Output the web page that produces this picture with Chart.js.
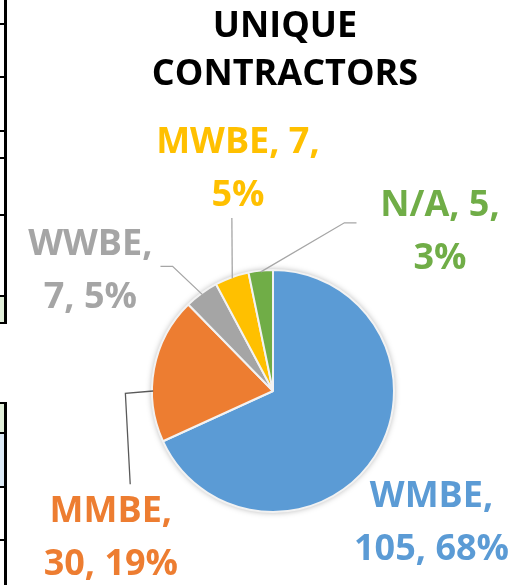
<!DOCTYPE html>
<html>
<head>
<meta charset="utf-8">
<script src="https://cdn.jsdelivr.net/npm/chart.js@4/dist/chart.umd.min.js"></script>
<style>
html,body{margin:0;padding:0;background:#fff;}
#wrap{width:532px;height:585px;position:relative;}
</style>
</head>
<body>
<div id="wrap"><canvas id="c"></canvas></div>
<script>
// ---- data ----
const categories = ["WMBE", "MMBE", "WWBE", "MWBE", "N/A"];
const contractorCounts = [105, 30, 7, 7, 5];
const titleLines = ["UNIQUE", "CONTRACTORS"];

// ---- style ----
const sliceColors = ["#5B9BD5", "#ED7D31", "#A5A5A5", "#FFC000", "#70AD47"];
const FONT = "bold 36px 'Open Sans', sans-serif";
// label layout: centre x / first baseline relative to pie centre in radius units, line break mode
const labelLayout = [
  {dx: 1.31, dy: 0.96, brk: "name"},
  {dx: -1.34, dy: 1.08, brk: "name"},
  {dx: -1.51, dy: -1.12, brk: "name"},
  {dx: -0.29, dy: -1.97, brk: "value"},
  {dx: 1.38, dy: -1.45, brk: "value"}
];
// leader lines: anchor fraction along arc + outer points (radius units)
const leaderLayout = [
  null,
  {t: 0.35, pts: [[-1.18, 0.77], [-1.22, 0.02]]},
  {t: 0.5, pts: [[-0.93, -1.03], [-0.83, -1.03]]},
  {t: 0.5, pts: [[-0.34, -1.43]]},
  {t: 0.5, pts: [[0.69, -1.39], [0.59, -1.39]]}
];

const total = contractorCounts.reduce((a, b) => a + b, 0);

const decorPlugin = {
  id: "decor",
  beforeDraw(chart) {
    const ctx = chart.ctx;
    ctx.save();
    // spreadsheet fragments at left edge
    ctx.fillStyle = "#E2EFDA";
    ctx.fillRect(0, 296, 6, 26);
    ctx.fillRect(0, 404, 6, 29);
    ctx.fillStyle = "#DDEBF7";
    ctx.fillRect(0, 434, 6, 53);
    ctx.strokeStyle = "#000";
    ctx.lineWidth = 3;
    ctx.beginPath();
    ctx.moveTo(5.5, 0); ctx.lineTo(5.5, 324);
    ctx.moveTo(5.5, 402); ctx.lineTo(5.5, 585);
    ctx.stroke();
    ctx.lineWidth = 2;
    ctx.beginPath();
    [24, 77, 131, 158, 215, 296, 323, 403, 433, 487, 540].forEach(y => {
      ctx.moveTo(0, y); ctx.lineTo(6, y);
    });
    ctx.stroke();
    // title
    ctx.fillStyle = "#000";
    ctx.font = FONT;
    ctx.textAlign = "center";
    ctx.textBaseline = "alphabetic";
    ctx.fillText(titleLines[0], 285, 37);
    ctx.fillText(titleLines[1], 285, 85);
    ctx.restore();
  },
  beforeDatasetsDraw(chart) {
    const arc = chart.getDatasetMeta(0).data[0];
    if (!arc) return;
    const ctx = chart.ctx;
    ctx.save();
    ctx.shadowColor = "rgba(0,0,0,0.35)";
    ctx.shadowBlur = 6;
    ctx.fillStyle = "#fff";
    ctx.beginPath();
    ctx.arc(arc.x, arc.y, arc.outerRadius, 0, Math.PI * 2);
    ctx.fill();
    ctx.restore();
  },
  afterDatasetsDraw(chart) {
    const meta = chart.getDatasetMeta(0);
    const ctx = chart.ctx;
    ctx.save();
    meta.data.forEach((arc, i) => {
      const cx = arc.x, cy = arc.y, R = arc.outerRadius;
      const L = leaderLayout[i];
      if (L) {
        const a = arc.startAngle + (arc.endAngle - arc.startAngle) * L.t;
        const ax = cx + Math.cos(a) * R * 0.99, ay = cy + Math.sin(a) * R * 0.99;
        ctx.strokeStyle = i === 1 ? "#595959" : "#A6A6A6";
        ctx.lineWidth = 1.3;
        ctx.beginPath();
        L.pts.forEach((p, k) => {
          const x = cx + p[0] * R, y = cy + p[1] * R;
          if (k === 0) ctx.moveTo(x, y); else ctx.lineTo(x, y);
        });
        ctx.lineTo(ax, ay);
        ctx.stroke();
      }
      const v = contractorCounts[i];
      const pct = Math.round(v / total * 100) + "%";
      const lay = labelLayout[i];
      const lines = lay.brk === "name"
        ? [categories[i] + ",", v + ", " + pct]
        : [categories[i] + ", " + v + ",", pct];
      ctx.fillStyle = sliceColors[i];
      ctx.font = FONT;
      ctx.textAlign = "center";
      ctx.textBaseline = "alphabetic";
      const x = cx + lay.dx * R, y = cy + lay.dy * R;
      lines.forEach((t, k) => ctx.fillText(t, x, y + k * 53));
    });
    ctx.restore();
  }
};

new Chart(document.getElementById("c"), {
  type: "pie",
  data: {
    labels: categories,
    datasets: [{
      data: contractorCounts,
      backgroundColor: sliceColors,
      borderColor: "#F2F2F2",
      borderWidth: 2
    }]
  },
  options: {
    responsive: true,
    maintainAspectRatio: false,
    animation: false,
    layout: {padding: {left: 151, right: 137, top: 269, bottom: 72}},
    plugins: {
      legend: {display: false},
      title: {display: false},
      tooltip: {enabled: false}
    }
  },
  plugins: [decorPlugin]
});
</script>
</body>
</html>
